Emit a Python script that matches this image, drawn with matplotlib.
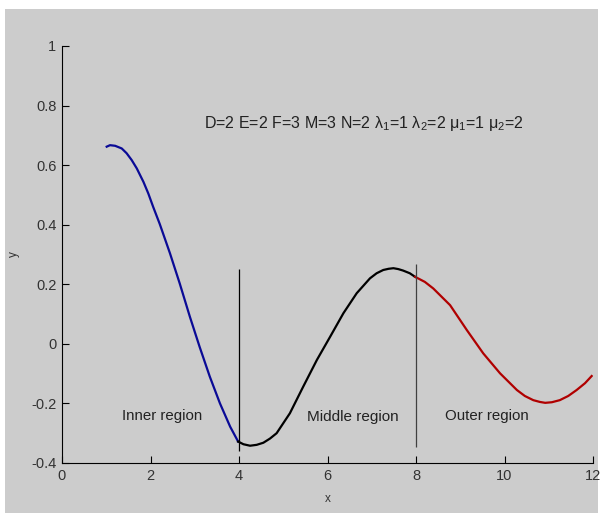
import matplotlib.pyplot as plt
from matplotlib.patches import Rectangle

# Werte
x_inner = [1.01, 1.085, 1.20, 1.35, 1.46, 1.575, 1.69, 1.84, 1.95, 2.06, 2.21, 2.44,
           2.66, 2.89, 3.11, 3.34, 3.57, 3.80, 3.98]
y_inner = [0.662, 0.667, 0.665, 0.656, 0.640, 0.617, 0.589, 0.544, 0.505, 0.460, 0.402, 0.304,
           0.203, 0.091, -0.010, -0.110, -0.200, -0.278, -0.328]

x_middle = [3.98, 4.10, 4.25, 4.40, 4.55, 4.70, 4.85, 5.15, 5.45, 5.76, 6.06, 6.36, 6.66,
            6.96, 7.11, 7.26, 7.38, 7.49, 7.60, 7.71, 7.86, 7.98]
y_middle = [-0.328, -0.337, -0.342, -0.339, -0.332, -0.318, -0.300, -0.233, -0.144, -0.054,
            0.024, 0.103, 0.170, 0.220, 0.237, 0.248, 0.252, 0.254, 0.251, 0.246, 0.237, 0.225]

x_outer = [7.98, 8.20, 8.39, 8.77, 9.15, 9.52, 9.90, 10.28, 10.46, 10.65, 10.80, 10.92, 11.07,
           11.25, 11.44, 11.63, 11.82, 11.97]
y_outer = [0.225, 0.208, 0.186, 0.130, 0.046, -0.032, -0.099, -0.155, -0.175, -0.189, -0.195,
           -0.198, -0.196, -0.189, -0.175, -0.155, -0.132, -0.108]

# Grenzlinien der Bereiche
x_bounds = [4, 8]
y_bound_low = [-0.36, -0.345]
y_bound_high = [0.25, 0.268]

plt.rcParams['font.family'] = ['Liberation Sans', 'DejaVu Sans']
plt.rcParams['mathtext.fontset'] = 'custom'
plt.rcParams['mathtext.rm'] = 'Liberation Sans'
plt.rcParams['mathtext.it'] = 'Liberation Sans'
plt.rcParams['mathtext.default'] = 'regular'

fig = plt.figure(figsize=(6.01, 5.16), dpi=100, facecolor='white')
bg = Rectangle((5/601, 3/516), 593/601, 504/516, transform=fig.transFigure,
               facecolor='#cccccc', edgecolor='none', zorder=-5)
fig.add_artist(bg)
ax = fig.add_axes([62/601, 53/516, 531/601, 417/516])
ax.set_facecolor('none')

ax.plot(x_inner, y_inner, color='#0a0a96', lw=1.6)
ax.plot(x_middle, y_middle, color='black', lw=1.6)
ax.plot(x_outer, y_outer, color='#b00000', lw=1.6)

ax.vlines(x_bounds[0], y_bound_low[0], y_bound_high[0], color='black', lw=0.9)
ax.vlines(x_bounds[1], y_bound_low[1], y_bound_high[1], color='#404040', lw=0.9)

ax.text(6.82, 0.74, r'D=2 E=2 F=3 M=3 N=2 $\lambda_1$=1 $\lambda_2$=2 $\mu_1$=1 $\mu_2$=2',
        ha='center', va='center', fontsize=11.5, color='#222222')
ax.text(2.26, -0.242, 'Inner region', ha='center', va='center', fontsize=10.8, color='#222222')
ax.text(6.58, -0.246, 'Middle region', ha='center', va='center', fontsize=11, color='#222222')
ax.text(9.6, -0.242, 'Outer region', ha='center', va='center', fontsize=10.8, color='#222222')

ax.set_xlim(0, 12)
ax.set_ylim(-0.4, 1)
ax.set_xticks([0, 2, 4, 6, 8, 10, 12])
ax.set_yticks([-0.4, -0.2, 0, 0.2, 0.4, 0.6, 0.8, 1])
ax.set_yticklabels(['-0.4', '-0.2', '0', '0.2', '0.4', '0.6', '0.8', '1'])
ax.spines['top'].set_visible(False)
ax.spines['right'].set_visible(False)
ax.tick_params(direction='in', length=5, labelsize=10.5, labelcolor='#333333', pad=4)
ax.set_xlabel('x', fontsize=8.5, color='#333333')
ax.set_ylabel('y', fontsize=8.5, color='#333333')
ax.xaxis.set_label_coords(0.5, -0.072)
ax.yaxis.set_label_coords(-0.079, 0.5)

plt.savefig('out.png', dpi=100)
